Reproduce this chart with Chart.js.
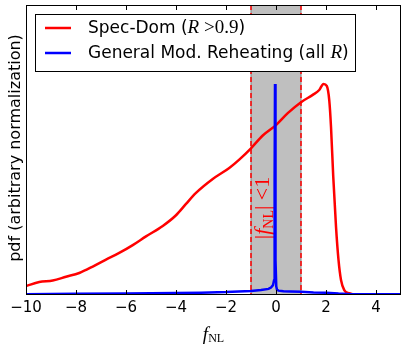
<!DOCTYPE html>
<html lang="en">
<head>
    <meta charset="UTF-8">
    <title>pdf of f_NL</title>
    <script src="https://cdn.jsdelivr.net/npm/chart.js"></script>
    <style>
        html, body { margin: 0; padding: 0; background: #fff; }
        canvas { display: block; }
    </style>
</head>
<body>
    <canvas id="myChart" width="407" height="349"></canvas>

    <script>
        // values (arbitrary normalization)
        var redX = [-10, -9.47, -8.93, -8.4, -7.87, -7.33, -6.8, -6.27, -5.73, -5.2, -4.53, -4.0, -3.6, -3.2,
            -2.53, -1.87, -1.47, -1.0, -0.53, 0, 0.47, 1.0, 1.47, 1.73, 1.9, 2.03, 2.13, 2.2, 2.29, 2.4,
            2.5, 2.6, 2.73, 2.93, 3.2, 5];
        var redY = [0.031, 0.045, 0.050, 0.063, 0.076, 0.098, 0.122, 0.145, 0.172, 0.202, 0.238, 0.275, 0.314, 0.352,
            0.400, 0.438, 0.467, 0.506, 0.550, 0.586, 0.627, 0.665, 0.690, 0.707, 0.728, 0.721, 0.672, 0.580, 0.408, 0.236,
            0.121, 0.052, 0.017, 0.006, 0.001, 0];

        var blueX = [-10, -8, -6, -4, -3, -2, -1.5, -1, -0.6, -0.3, -0.2, -0.12, -0.08, -0.06, -0.05, -0.04,
            -0.03, -0.01, 0.01, 0.04, 0.1, 0.3, 0.6, 1, 1.5, 2, 2.5, 3, 4, 5];
        var blueY = [0.003, 0.004, 0.005, 0.007, 0.008, 0.010, 0.012, 0.014, 0.017, 0.021, 0.026, 0.034, 0.05, 0.12, 0.4, 0.728,
            0.5, 0.12, 0.03, 0.018, 0.015, 0.013, 0.012, 0.011, 0.009, 0.008, 0.005, 0.003, 0.003, 0.003];

        var seriesLabels = ["Spec-Dom", "General Mod. Reheating"];
        var xTicks = [-10, -8, -6, -4, -2, 0, 2, 4];
        var band = [-1, 1];

        function toPoints(xs, ys) {
            return xs.map(function (x, i) { return { x: x, y: ys[i] }; });
        }

        // draws a run of [text, font, dy] pieces from the current origin
        function drawPieces(ctx, pieces, x, y) {
            pieces.forEach(function (p) {
                ctx.font = p[1];
                ctx.fillText(p[0], x, y + (p[2] || 0));
                x += ctx.measureText(p[0]).width;
            });
            return x;
        }
        function piecesWidth(ctx, pieces) {
            var w = 0;
            pieces.forEach(function (p) { ctx.font = p[1]; w += ctx.measureText(p[0]).width; });
            return w;
        }

        var LEG = "17px 'DejaVu Sans'";
        var SERIF_I = "italic 19px 'Liberation Serif'";
        var SERIF = "19px 'Liberation Serif'";

        var decor = {
            id: "decor",
            beforeDatasetsDraw: function (chart) {
                var ctx = chart.ctx, a = chart.chartArea, xs = chart.scales.x;
                var x0 = xs.getPixelForValue(band[0]), x1 = xs.getPixelForValue(band[1]);
                ctx.save();
                ctx.fillStyle = "#bfbfbf";
                ctx.fillRect(x0, a.top, x1 - x0, a.bottom - a.top);
                ctx.strokeStyle = "#808080";
                ctx.lineWidth = 1;
                [x0, x1].forEach(function (px) {
                    ctx.beginPath(); ctx.moveTo(px, a.top); ctx.lineTo(px, a.bottom); ctx.stroke();
                });
                ctx.strokeStyle = "#ff0000";
                ctx.lineWidth = 1.5;
                ctx.setLineDash([5, 3]);
                [x0, x1].forEach(function (px) {
                    ctx.beginPath(); ctx.moveTo(px, a.top); ctx.lineTo(px, a.bottom); ctx.stroke();
                });
                ctx.setLineDash([]);

                // rotated |f_NL| < 1
                var pieces = [["|", "22px 'Liberation Serif'"], ["f", "italic 22px 'Liberation Serif'"],
                    ["NL", "14px 'Liberation Serif'", 4], ["|", "22px 'Liberation Serif'"],
                    [" <1", "22px 'Liberation Serif'"]];
                var cx = xs.getPixelForValue(-0.55), cy = 208;
                ctx.translate(cx, cy);
                ctx.rotate(-Math.PI / 2);
                ctx.fillStyle = "#ff0000";
                ctx.textBaseline = "alphabetic";
                var w = piecesWidth(ctx, pieces);
                drawPieces(ctx, pieces, -w / 2, 7);
                ctx.restore();
            },
            afterDraw: function (chart) {
                var ctx = chart.ctx, a = chart.chartArea, xs = chart.scales.x;
                ctx.save();
                // frame + inward ticks
                ctx.strokeStyle = "#000";
                ctx.lineWidth = 1;
                ctx.strokeRect(Math.round(a.left) + 0.5, Math.round(a.top) + 0.5,
                    Math.round(a.right - a.left) - 1, Math.round(a.bottom - a.top) - 1);
                xTicks.forEach(function (v) {
                    var px = Math.round(xs.getPixelForValue(v)) + 0.5;
                    ctx.beginPath();
                    ctx.moveTo(px, a.bottom); ctx.lineTo(px, a.bottom - 5);
                    ctx.moveTo(px, a.top); ctx.lineTo(px, a.top + 5);
                    ctx.stroke();
                });

                // legend
                var lx = 35, ly = 14, lw = 320, lh = 57;
                ctx.fillStyle = "#fff";
                ctx.fillRect(lx, ly, lw, lh);
                ctx.strokeRect(lx + 0.5, ly + 0.5, lw, lh);
                var rows = [
                    { color: "#ff0000", y: 28, pieces: [[seriesLabels[0] + " (", LEG], ["R", SERIF_I], [" >0.9", SERIF], [")", LEG]] },
                    { color: "#0000ff", y: 53, pieces: [[seriesLabels[1] + " (all ", LEG], ["R", SERIF_I], [")", LEG]] }
                ];
                rows.forEach(function (r) {
                    ctx.strokeStyle = r.color;
                    ctx.lineWidth = 2.5;
                    ctx.beginPath(); ctx.moveTo(45, r.y); ctx.lineTo(71, r.y); ctx.stroke();
                    ctx.fillStyle = "#000";
                    ctx.textBaseline = "alphabetic";
                    drawPieces(ctx, r.pieces, 88, r.y + 5);
                });

                // x label f_NL
                var xl = [["f", "italic 19px 'Liberation Serif'"], ["NL", "12px 'Liberation Serif'", 2]];
                var w = piecesWidth(ctx, xl);
                drawPieces(ctx, xl, (a.left + a.right) / 2 - w / 2, 340);

                // y label
                ctx.translate(20, 148);
                ctx.rotate(-Math.PI / 2);
                ctx.font = "16px 'DejaVu Sans'";
                ctx.textAlign = "center";
                ctx.fillText("pdf (arbitrary normalization)", 0, 0);
                ctx.restore();
            }
        };

        var ctx = document.getElementById("myChart").getContext("2d");
        var myChart = new Chart(ctx, {
            type: "line",
            data: {
                datasets: [
                    {
                        label: seriesLabels[0],
                        data: toPoints(redX, redY),
                        borderColor: "#ff0000",
                        borderWidth: 2.5,
                        pointRadius: 0,
                        cubicInterpolationMode: "monotone",
                        order: 2
                    },
                    {
                        label: seriesLabels[1],
                        data: toPoints(blueX, blueY),
                        borderColor: "#0000ff",
                        borderWidth: 2.5,
                        pointRadius: 0,
                        tension: 0,
                        order: 1
                    }
                ]
            },
            options: {
                responsive: false,
                animation: false,
                devicePixelRatio: 1,
                layout: { padding: { left: 26, top: 5, right: 6, bottom: 0 } },
                plugins: { legend: { display: false }, tooltip: { enabled: false } },
                scales: {
                    x: {
                        type: "linear",
                        min: -10,
                        max: 5,
                        afterBuildTicks: function (s) { s.ticks = xTicks.map(function (v) { return { value: v }; }); },
                        afterFit: function (s) { s.height = 54; },
                        grid: { display: false, drawTicks: false },
                        border: { display: false },
                        ticks: {
                            padding: 4,
                            color: "#000",
                            maxRotation: 0,
                            font: { family: "DejaVu Sans", size: 15 },
                            callback: function (v) { return v < 0 ? "\u2212" + Math.abs(v) : String(v); }
                        }
                    },
                    y: { display: false, min: 0, max: 1 }
                }
            },
            plugins: [decor]
        });
    </script>
</body>
</html>
